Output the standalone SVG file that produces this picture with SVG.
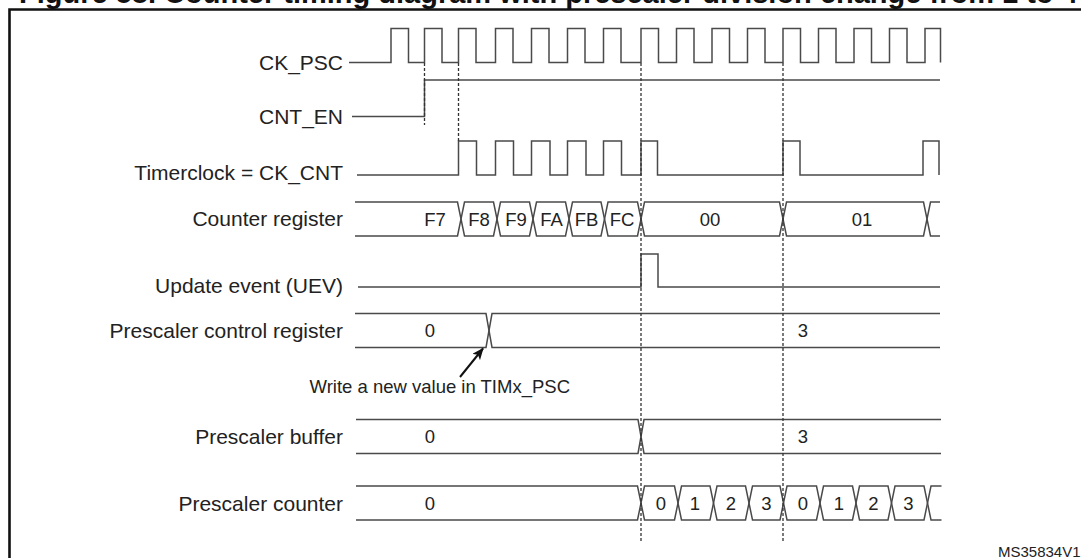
<svg xmlns="http://www.w3.org/2000/svg" width="1081" height="558" viewBox="0 0 1081 558">
<defs>
<style>
text{font-family:"Liberation Sans",Arial,sans-serif;fill:#222}
.lbl{font-size:21px;text-anchor:end}
.val{font-size:18.5px;text-anchor:middle}
.wave{fill:none;stroke:#4a4a4a;stroke-width:1.5;stroke-linejoin:miter}
.dash{fill:none;stroke:#333;stroke-width:1.3;stroke-dasharray:3 2}
</style>
<marker id="ah" markerUnits="userSpaceOnUse" markerWidth="12" markerHeight="10" refX="11" refY="5" orient="auto">
<path d="M0,0 L12,5 L0,10 L3,5 z" fill="#111"/>
</marker>
</defs>
<rect width="1081" height="558" fill="#fff"/>
<text x="19" y="2.5" style="font-size:29px;font-weight:bold;fill:#111">Figure 58. Counter timing diagram with prescaler division change from 1 to 4</text>
<path d="M9.5,560 V9.5 H1085" fill="none" stroke="#111" stroke-width="2.6"/>

<g id="ck_psc">
<text class="lbl" x="343" y="69.5">CK_PSC</text>
<path class="wave" d="M349,62.5 H391 V28.5 H408.5 V62.5 H424.5 V28.5 H442 V62.5 H458.5 V28.5 H476 V62.5 H495.5 V28.5 H513 V62.5 H531.5 V28.5 H549 V62.5 H567.5 V28.5 H585 V62.5 H603.5 V28.5 H621 V62.5 H641 V28.5 H658.5 V62.5 H676.5 V28.5 H694 V62.5 H712 V28.5 H729.5 V62.5 H747.5 V28.5 H765 V62.5 H783 V28.5 H800.5 V62.5 H818.5 V28.5 H836 V62.5 H854 V28.5 H871.5 V62.5 H889.5 V28.5 H907 V62.5 H925 V28.5 H940.5 V62.5"/>
</g>

<g id="cnt_en">
<text class="lbl" x="343" y="124">CNT_EN</text>
<path class="wave" d="M352,116.5 H424.5 V80 H940"/>
</g>

<g id="ck_cnt">
<text class="lbl" x="343" y="179.5">Timerclock = CK_CNT</text>
<path class="wave" d="M357,175 H458.5 V141 H476.5 V175 H495.5 V141 H513.5 V175 H531.5 V141 H550 V175 H567.5 V141 H586 V175 H603.5 V141 H621.5 V175 H641 V141 H657.5 V175 H783 V141 H800 V175 H923 V141 H939 V175"/>
</g>

<g id="counter_register">
<text class="lbl" x="343" y="225.5">Counter register</text>
<path class="wave" d="M355,202 H457.5 L464.5,236 H493.5 L500.5,202 H529.5 L536.5,236 H565.5 L572.5,202 H601 L608,236 H637.5 L644.5,202 H779.5 L786.5,236 H923.5 L930.5,202 H940"/>
<path class="wave" d="M355,236 H457.5 L464.5,202 H493.5 L500.5,236 H529.5 L536.5,202 H565.5 L572.5,236 H601 L608,202 H637.5 L644.5,236 H779.5 L786.5,202 H923.5 L930.5,236 H940"/>
<text class="val" x="435" y="225.5">F7</text>
<text class="val" x="479" y="225.5">F8</text>
<text class="val" x="516" y="225.5">F9</text>
<text class="val" x="551.5" y="225.5">FA</text>
<text class="val" x="586.5" y="225.5">FB</text>
<text class="val" x="622" y="225.5">FC</text>
<text class="val" x="710" y="225.5">00</text>
<text class="val" x="862" y="225.5">01</text>
</g>

<g id="uev">
<text class="lbl" x="343" y="292.5">Update event (UEV)</text>
<path class="wave" d="M358,287 H641 V254 H658 V287 H940"/>
</g>

<g id="psc_control">
<text class="lbl" x="343" y="338">Prescaler control register</text>
<path class="wave" d="M355,313.5 H486 L492,347.5 H940"/>
<path class="wave" d="M355,347.5 H486 L492,313.5 H940"/>
<text class="val" x="430" y="337">0</text>
<text class="val" x="803" y="337">3</text>
</g>

<g id="write_note">
<text x="570" y="393" style="font-size:18.5px;text-anchor:end">Write a new value in TIMx_PSC</text>
</g>

<g id="psc_buffer">
<text class="lbl" x="343" y="444">Prescaler buffer</text>
<path class="wave" d="M356,419.5 H638 L644,453.5 H941"/>
<path class="wave" d="M356,453.5 H638 L644,419.5 H941"/>
<text class="val" x="430" y="443">0</text>
<text class="val" x="803" y="443">3</text>
</g>

<g id="psc_counter">
<text class="lbl" x="343" y="510.5">Prescaler counter</text>
<path class="wave" d="M356,486 H637.5 L644.5,520 H674.5 L681.5,486 H710 L717,520 H745.5 L752.5,486 H780 L787,520 H816.5 L823.5,486 H852.5 L859.5,520 H888 L895,486 H924 L931,520 H941.5"/>
<path class="wave" d="M356,520 H637.5 L644.5,486 H674.5 L681.5,520 H710 L717,486 H745.5 L752.5,520 H780 L787,486 H816.5 L823.5,520 H852.5 L859.5,486 H888 L895,520 H924 L931,486 H941.5"/>
<text class="val" x="430" y="509.5">0</text>
<text class="val" x="661" y="509.5">0</text>
<text class="val" x="695" y="509.5">1</text>
<text class="val" x="731" y="509.5">2</text>
<text class="val" x="766.5" y="509.5">3</text>
<text class="val" x="803" y="509.5">0</text>
<text class="val" x="839" y="509.5">1</text>
<text class="val" x="873.5" y="509.5">2</text>
<text class="val" x="908.5" y="509.5">3</text>
</g>

<g id="connectors">
<path class="dash" d="M424.5,63 V125"/>
<path class="dash" d="M458.5,63 V141"/>
<path class="dash" d="M641,63 V543"/>
<path class="dash" d="M783,63 V543"/>
<path d="M460,377 L483,348.5" fill="none" stroke="#111" stroke-width="2" marker-end="url(#ah)"/>
</g>

<text x="998" y="556.5" style="font-size:15px">MS35834V1</text>
</svg>
